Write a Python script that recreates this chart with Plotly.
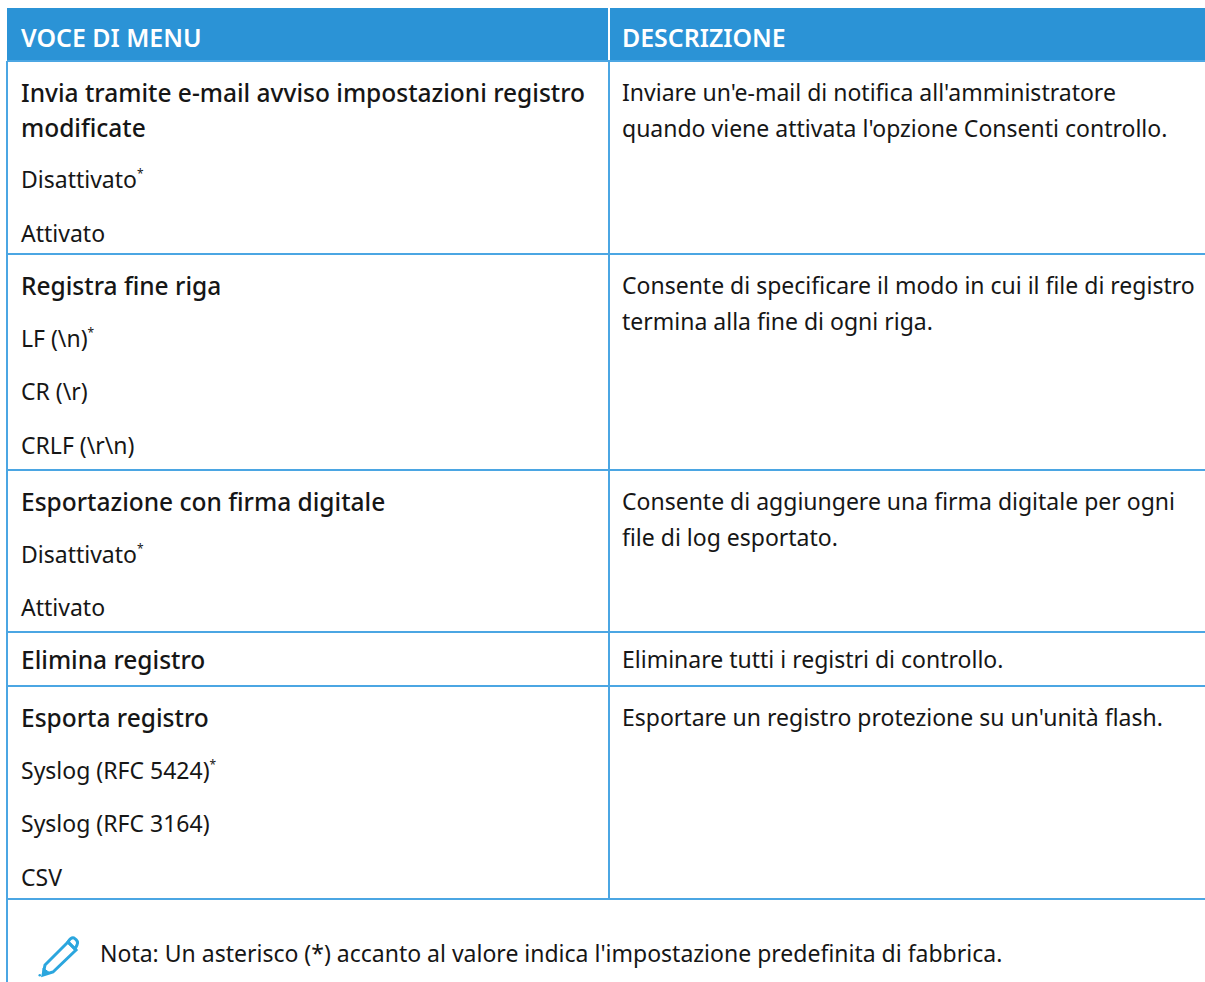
import plotly.graph_objects as go

FONT = "Noto Sans"
INK = "#161616"
HEADER_BG = "#2b93d6"
RULE = "#4ba6e3"
ICON = "#2ba6de"
STAR = '<sup><span style="font-size:12px">*</span></sup>'

headers = ["VOCE DI MENU", "DESCRIZIONE"]
menu_titles = [
    ["Invia tramite e-mail avviso impostazioni registro", "modificate"],
    ["Registra fine riga"],
    ["Esportazione con firma digitale"],
    ["Elimina registro"],
    ["Esporta registro"],
]
menu_options = [
    ["Disattivato" + STAR, "Attivato"],
    ["LF (\\n)" + STAR, "CR (\\r)", "CRLF (\\r\\n)"],
    ["Disattivato" + STAR, "Attivato"],
    [],
    ["Syslog (RFC 5424)" + STAR, "Syslog (RFC 3164)", "CSV"],
]
descriptions = [
    ["Inviare un'e-mail di notifica all'amministratore", "quando viene attivata l'opzione Consenti controllo."],
    ["Consente di specificare il modo in cui il file di registro", "termina alla fine di ogni riga."],
    ["Consente di aggiungere una firma digitale per ogni", "file di log esportato."],
    ["Eliminare tutti i registri di controllo."],
    ["Esportare un registro protezione su un'unità flash."],
]
note = "Nota: Un asterisco (*) accanto al valore indica l'impostazione predefinita di fabbrica."

# table grid
LEFT, MID, RIGHT = 7, 609, 1205
TOP, HEAD_BOTTOM = 8, 61
row_bottoms = [254, 470, 632, 686, 899]
PAGE_BOTTOM = 982
TITLE_OFFSET = 31       # first line centre below the row top
WRAP_STEP = 35.5        # wrapped line spacing
PARA_STEP = 53.5        # paragraph spacing
OPTION_LIFT = 1

fig = go.Figure()
fig.add_trace(go.Scatter(x=[0, 1205], y=[0, 982], mode="markers",
                         marker=dict(opacity=0), hoverinfo="skip", showlegend=False))

shapes = [dict(type="rect", x0=LEFT, x1=RIGHT, y0=TOP, y1=HEAD_BOTTOM, fillcolor=HEADER_BG, line_width=0, layer="below"),
          dict(type="line", x0=MID, x1=MID, y0=TOP, y1=HEAD_BOTTOM, line=dict(color="white", width=2)),
          dict(type="line", x0=LEFT, x1=LEFT, y0=HEAD_BOTTOM, y1=PAGE_BOTTOM, line=dict(color=RULE, width=2)),
          dict(type="line", x0=MID, x1=MID, y0=HEAD_BOTTOM, y1=row_bottoms[-1], line=dict(color=RULE, width=2)),
          dict(type="line", x0=LEFT, x1=RIGHT, y0=HEAD_BOTTOM, y1=HEAD_BOTTOM, line=dict(color=RULE, width=2))]
for b in row_bottoms:
    shapes.append(dict(type="line", x0=LEFT, x1=RIGHT, y0=b, y1=b, line=dict(color=RULE, width=2)))

# pencil icon
shapes.append(dict(type="path", path="M 45 965 L 68 942 L 76 950 L 53 972 L 43 975 Z",
                   line=dict(color=ICON, width=3), fillcolor="rgba(0,0,0,0)"))
shapes.append(dict(type="path", path="M 68 942 Q 71 937 74 938 Q 79 941 77 945 L 75 949 Z",
                   line=dict(color=ICON, width=3), fillcolor="rgba(0,0,0,0)"))
shapes.append(dict(type="path", path="M 43 968 L 50 973 L 43 975 Z", line=dict(color=ICON, width=1), fillcolor=ICON))
shapes.append(dict(type="circle", x0=38.5, x1=41, y0=974, y1=976.5, line_width=0, fillcolor=ICON))

annotations = []


def put(text, x, y, size=23, weight=400, color=INK):
    annotations.append(dict(text=text, x=x, y=y, xref="x", yref="y", xanchor="left", yanchor="middle",
                            showarrow=False, borderpad=0, borderwidth=0,
                            font=dict(family=FONT, size=size, color=color, weight=weight)))


put(headers[0], 21, 37, size=24.9, weight=600, color="white")
put(headers[1], 622, 37, size=24.9, weight=600, color="white")

row_top = HEAD_BOTTOM
for i, bottom in enumerate(row_bottoms):
    first = row_top + min(TITLE_OFFSET, (bottom - row_top) / 2)
    for j, line in enumerate(menu_titles[i]):
        put(line, 21, first + j * WRAP_STEP, size=24.5, weight=500)
    y = first + (len(menu_titles[i]) - 1) * (WRAP_STEP - OPTION_LIFT) - OPTION_LIFT
    for j, line in enumerate(menu_options[i]):
        put(line, 21, y + (j + 1) * PARA_STEP, size=23)
    for j, line in enumerate(descriptions[i]):
        put(line, 622, first + j * WRAP_STEP)
    row_top = bottom

put(note, 100, 953)

fig.update_layout(
    width=1205, height=982, margin=dict(l=0, r=0, t=0, b=0),
    paper_bgcolor="white", plot_bgcolor="white", showlegend=False,
    xaxis=dict(range=[0, 1205], visible=False, fixedrange=True),
    yaxis=dict(range=[982, 0], visible=False, fixedrange=True),
    shapes=shapes, annotations=annotations,
)
fig.write_html("out.html", config=dict(displayModeBar=False),
               post_script="document.body.style.margin='0';document.documentElement.style.overflow='hidden';")
